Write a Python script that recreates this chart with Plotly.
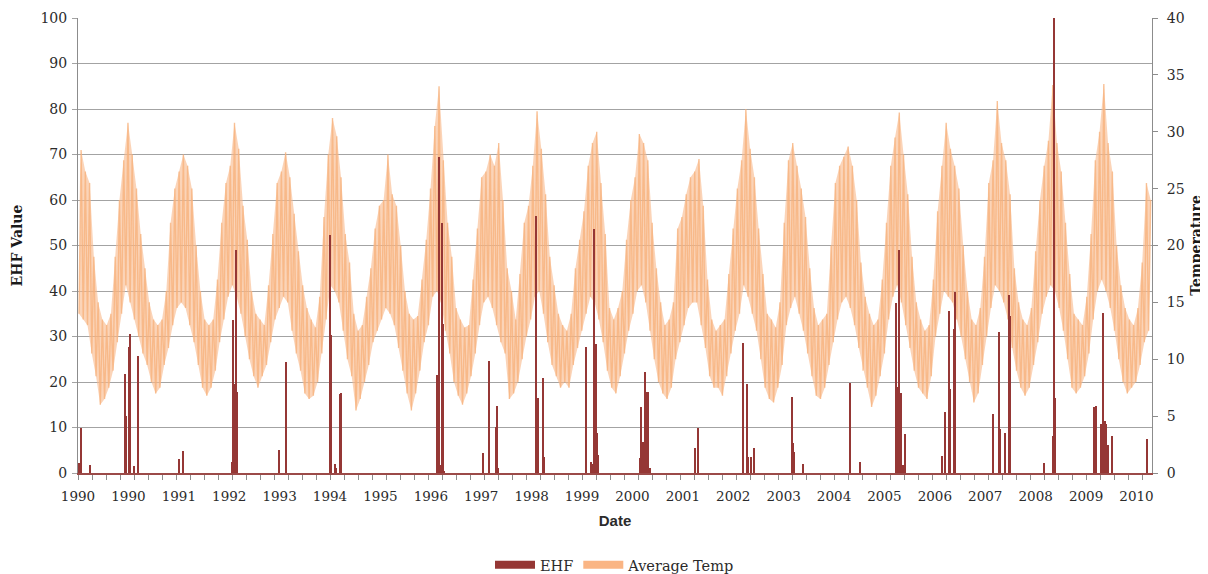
import plotly.graph_objects as go

# ---------------- data ----------------
# x axis: day index from the start of the record; labels every 360 days
x_tick_days = [0, 360, 720, 1080, 1440, 1800, 2160, 2520, 2880, 3240, 3600,
               3960, 4320, 4680, 5040, 5400, 5760, 6120, 6480, 6840, 7200, 7560]
x_tick_labels = ["1990", "1990", "1991", "1992", "1993", "1994", "1995", "1996",
                 "1997", "1998", "1999", "2000", "2001", "2002", "2003", "2004",
                 "2005", "2006", "2007", "2008", "2009", "2010"]

# EHF events (day index, value)
ehf_day = [9, 21, 86, 336, 343, 362, 371, 400, 429, 719, 748,
           1098, 1107, 1116, 1126, 1136, 1438, 1486,
           1798, 1805, 1834, 1843, 1871, 1879,
           2562, 2581, 2591, 2598, 2605, 2614, 2891, 2938, 2984, 2991, 3000,
           3269, 3286, 3324, 3331, 3626, 3662, 3674, 3688, 3698, 3707, 3716,
           4012, 4021, 4031, 4041, 4050, 4059, 4069, 4084, 4407, 4426,
           4750, 4776, 4784, 4805, 4831, 5098, 5105, 5116, 5181, 5512, 5586,
           5843, 5850, 5866, 5879, 5895, 5907,
           6171, 6193, 6219, 6229, 6257, 6266,
           6534, 6579, 6586, 6624, 6652, 6659,
           6898, 6962, 6971, 6981,
           7259, 7269, 7309, 7316, 7324, 7336, 7345, 7355, 7386, 7636]
ehf_val = [2.1, 9.8, 1.8, 21.8, 12.5, 27.8, 30.5, 1.5, 25.7, 3.1, 4.8,
           2.5, 33.6, 19.6, 49.0, 17.7, 5.0, 24.3,
           52.3, 30.3, 2.0, 1.2, 17.3, 17.5,
           21.5, 69.5, 1.8, 54.9, 32.7, 0.5, 4.5, 24.6, 10.2, 14.7, 1.2,
           56.5, 16.4, 20.9, 3.5, 27.8, 2.5, 2.0, 53.6, 28.3, 8.7, 4.0,
           3.4, 14.4, 6.9, 6.9, 22.3, 17.7, 17.7, 1.2, 5.6, 9.8,
           28.5, 19.5, 3.6, 3.6, 5.6, 16.6, 6.5, 4.7, 2.0, 19.8, 2.4,
           37.3, 18.8, 49.0, 17.5, 1.8, 8.6,
           3.7, 13.3, 35.6, 18.4, 31.6, 39.7,
           13.0, 30.9, 9.7, 8.7, 39.2, 34.5,
           2.2, 8.1, 100.0, 16.4,
           14.4, 14.7, 10.8, 5.0, 35.1, 11.4, 10.8, 6.2, 8.2, 7.4]

# Average temperature: monthly low / high of the daily values (one per month)
temp_hi = [
    28.4, 26.5, 25.5, 19, 15, 13.5, 13, 14, 19, 24, 27.5, 30.8,
    28, 25, 21, 18, 15, 13.5, 13, 13.5, 16, 22, 25, 26.5,
    28, 27, 25, 20, 16, 13.5, 13, 13.5, 17, 22, 25.5, 27,
    30.8, 28.5, 23.5, 20.5, 16, 14, 13.5, 13, 16.5, 21, 25.5, 26.5,
    28.2, 26, 22.8, 19.5, 16.5, 14.5, 13.5, 12.8, 15.5, 22.5, 28, 31.2,
    29.6, 26, 21, 18.5, 14, 12.5, 13, 15.5, 18, 21.5, 23.5, 24,
    28, 24.5, 23.5, 20, 16, 14, 13.5, 13.8, 17, 20.5, 25, 30.5,
    34, 27.5, 22, 19, 14.5, 13.5, 12.8, 13, 17, 21.5, 26, 26.5,
    28, 27, 29, 24, 18, 16, 13.5, 17.5, 22, 23.5, 27, 31.8,
    28.5, 24.5, 19, 16.5, 14, 13, 12.5, 14, 18, 20.5, 23, 27,
    29, 30, 25.5, 21, 14.5, 13.5, 14.5, 16, 20.5, 24, 26, 29.8,
    29, 27.5, 22, 18, 15, 13, 13.5, 15, 21.5, 22.5, 24.5, 26,
    26.5, 27.6, 23.5, 17, 13.5, 12.5, 13, 13.5, 17.5, 21.5, 25, 27.5,
    32, 28.5, 26, 21.5, 17.5, 14, 13.5, 12.8, 15, 22, 27.5, 29,
    27, 25, 22.5, 18, 14.5, 13, 13.5, 14, 20, 25.5, 27, 27.8,
    28.7, 27, 24, 18.5, 15.5, 14, 13, 13.5, 17, 22, 27, 29.5,
    31.7, 28, 24.5, 19, 15, 13.5, 12.5, 13, 17, 23, 27, 30.8,
    28.5, 27, 25, 20, 16, 13.5, 13, 14.5, 19, 25.5, 27.5, 32.7,
    29, 27.5, 24.5, 18, 15, 13.5, 13, 14.5, 19.5, 24, 27, 29.2,
    34.1, 29, 26.5, 22, 17.5, 14, 13.5, 13, 15.5, 21, 27.5, 30,
    34.2, 29, 26.5, 20, 16.5, 14.5, 13.5, 13, 14.5, 18.5, 25.5, 24,
]
temp_lo = [
    14, 13.5, 13, 10.5, 8.5, 6, 6.5, 7.5, 9, 11.5, 14, 16.5,
    15, 13.5, 12, 10.5, 9.5, 8, 7, 7.5, 9.5, 11, 13, 14.5,
    15, 14.5, 13, 11.5, 9.5, 7.5, 6.8, 7.5, 9, 11.5, 13.5, 15.5,
    16.5, 15.5, 14, 12, 10, 8.5, 7.5, 8.5, 9.5, 11.5, 13.5, 14.5,
    15.5, 15, 12.5, 10.5, 9, 7, 6.5, 6.8, 8, 10.5, 13.5, 16.5,
    16, 15, 12.5, 10, 8.5, 5.5, 6.5, 8, 9.5, 11.5, 12.5, 13.5,
    14.5, 14, 13, 11, 9, 7, 5.5, 7, 9, 11.5, 13, 15.5,
    16, 15, 12.5, 10.5, 8, 6.8, 6, 7, 8.5, 10.5, 13, 15,
    15.5, 14.5, 13, 11.5, 10.5, 6.5, 7, 8, 10, 12, 13.5, 15.5,
    16, 14, 11.5, 9.5, 8.5, 7.5, 8, 7.5, 9.5, 11, 12.5, 14,
    15.5, 15, 13.5, 11.5, 9, 7.5, 7, 8.5, 10.5, 12.5, 14, 16,
    16.5, 15, 12.5, 10, 8, 7, 6.5, 7.5, 10, 11.5, 13, 14.5,
    15, 15, 13, 11, 8.5, 7.5, 7.5, 6.8, 8.5, 10.5, 12.5, 14,
    16.5, 15.5, 14, 12.5, 10, 7.5, 6.5, 6.2, 7.5, 9.5, 13, 14.5,
    15.5, 14, 12.5, 10.5, 8.5, 6.8, 6.5, 7.5, 9.5, 11.5, 13.5, 15,
    15.5, 14.5, 13, 11, 9, 7.5, 5.8, 6.8, 8.5, 10.5, 13.5, 15.5,
    16.5, 15, 13, 11, 9, 7.5, 7, 6.5, 8.5, 12, 14, 16,
    15.5, 15, 13.5, 12, 10, 8, 6.2, 7, 9.5, 12, 14.5, 16.5,
    16, 15, 13.5, 11, 9, 7.5, 6.8, 7.5, 9.5, 11.5, 14, 15.5,
    16.5, 16, 14.5, 12.5, 10, 7.5, 7, 7.5, 8.5, 10.5, 13.5, 16,
    17, 16, 14.5, 12.5, 10, 8, 7, 7.5, 8, 9.5, 11.5, 12.5,
]

# ---------------- build ----------------
DAYS_PER_MONTH = 30.4375
tx, ty = [], []
lo_x, hi_x = [], []
for m, (lo, hi) in enumerate(zip(temp_lo, temp_hi)):
    start = m * DAYS_PER_MONTH
    tx += [start + 7, start + 22]
    ty += [lo, hi]
    lo_x.append(start + 7)
    hi_x.append(start + 22)

# closed band outline (upper edge forward, lower edge backward)
band_x = hi_x + lo_x[::-1]
band_y = temp_hi + temp_lo[::-1]

EHF_COLOR = "#953735"
GRID = "#a3a3a3"
SERIF = "DejaVu Serif"
TXT = "#2b2b2b"

fig = go.Figure()
fig.add_trace(go.Scatter(x=band_x, y=band_y, mode="lines", yaxis="y",
                         fill="toself", fillcolor="rgba(249,186,140,0.62)",
                         line=dict(width=0), showlegend=False, hoverinfo="skip"))
fig.add_trace(go.Scatter(x=tx, y=ty, mode="lines", yaxis="y",
                         line=dict(color="rgba(247,176,122,0.75)", width=1.4),
                         showlegend=False, hoverinfo="skip"))
fig.add_trace(go.Bar(x=ehf_day, y=ehf_val, yaxis="y2", width=9,
                     marker=dict(color=EHF_COLOR, line=dict(width=0)),
                     showlegend=False))
# legend entries
fig.add_trace(go.Scatter(x=[None], y=[None], mode="lines", name="EHF",
                         line=dict(color=EHF_COLOR, width=8)))
fig.add_trace(go.Scatter(x=[None], y=[None], mode="lines", name="Average Temp",
                         line=dict(color="#FAB584", width=8)))

# the page body adds an 8px margin, so the figure is sized to fill the rest
fig.update_layout(
    width=1200, height=566,
    margin=dict(l=70, r=56, t=10, b=101),
    paper_bgcolor="white", plot_bgcolor="white",
    font=dict(family=SERIF, size=13, color=TXT),
    bargap=0,
    xaxis=dict(
        range=[0, 7671], tickmode="array", tickvals=x_tick_days, ticktext=x_tick_labels,
        ticks="", showgrid=False, zeroline=False, automargin=False,
        showline=True, linecolor="#9b4a48", linewidth=2,
        tickfont=dict(family=SERIF, size=13.5, color=TXT),
        ticklabelstandoff=10,
        minor=dict(tickmode="linear", tick0=0, dtick=100, ticks="outside",
                   ticklen=5, tickcolor="#8c8c8c", tickwidth=1, showgrid=False),
        title=dict(text="<b>Date</b>", font=dict(family="Liberation Sans", size=15, color=TXT),
                   standoff=12),
    ),
    yaxis=dict(
        range=[0, 40], side="right", tickmode="linear", tick0=0, dtick=5,
        ticks="outside", ticklen=5, tickcolor="#8c8c8c", automargin=False,
        ticklabelstandoff=6,
        showgrid=False, zeroline=False, showline=True, linecolor="#8c8c8c", linewidth=1,
        tickfont=dict(family=SERIF, size=14, color=TXT),
        title=dict(text="<b>Temperature</b>", font=dict(family=SERIF, size=14, color="#1a1a1a"),
                   standoff=7),
    ),
    yaxis2=dict(
        range=[0, 100], overlaying="y", side="left", tickmode="linear", tick0=0, dtick=10,
        ticks="outside", ticklen=5, tickcolor=GRID, automargin=False,
        ticklabelstandoff=2,
        showgrid=True, gridcolor=GRID, gridwidth=1.3, zeroline=False,
        showline=True, linecolor="#8c8c8c", linewidth=1,
        tickfont=dict(family=SERIF, size=14, color=TXT),
        title=dict(text="<b>EHF Value</b>", font=dict(family=SERIF, size=14, color="#1a1a1a"),
                   standoff=14),
    ),
    legend=dict(orientation="h", xref="paper", x=0.5, xanchor="center",
                yref="container", y=0.016, yanchor="middle", itemwidth=40,
                font=dict(family=SERIF, size=14.5, color=TXT), bgcolor="rgba(0,0,0,0)"),
)

fig.write_html("out.html")
